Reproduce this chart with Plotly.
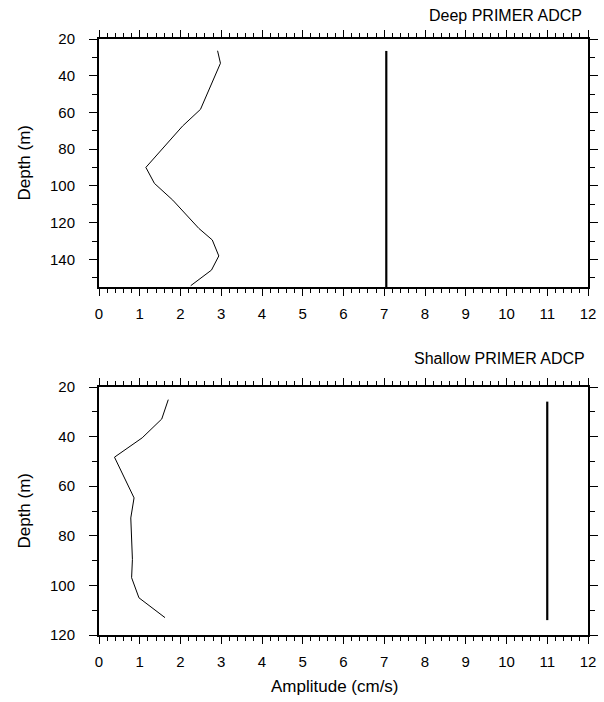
import plotly.graph_objects as go

# Deep PRIMER ADCP profile
deep_amp = [2.91, 2.98, 2.49, 2.05, 1.15, 1.36, 1.81, 2.45, 2.78, 2.94, 2.76, 2.25]
deep_depth = [26.4, 33.2, 58.3, 67.4, 89.9, 98.6, 107.7, 123.1, 129.4, 138.1, 145.8, 154.3]
deep_ref_amp = [7.05, 7.05]
deep_ref_depth = [26.5, 155]

# Shallow PRIMER ADCP profile
shal_amp = [1.70, 1.54, 1.06, 0.38, 0.86, 0.78, 0.82, 0.80, 0.98, 1.62]
shal_depth = [25.1, 32.9, 40.5, 48.3, 64.7, 72.8, 89.5, 96.9, 105.0, 113.0]
shal_ref_amp = [11.0, 11.0]
shal_ref_depth = [25.9, 114.0]

x_ticks = list(range(0, 13))
deep_y_ticks = [20, 40, 60, 80, 100, 120, 140]
shal_y_ticks = [20, 40, 60, 80, 100, 120]

FONT = "Liberation Sans, Arial, Helvetica, sans-serif"

fig = go.Figure()
fig.add_trace(go.Scatter(x=deep_amp, y=deep_depth, mode="lines",
                         line=dict(color="black", width=1), xaxis="x", yaxis="y"))
fig.add_trace(go.Scatter(x=deep_ref_amp, y=deep_ref_depth, mode="lines",
                         line=dict(color="black", width=2.2), xaxis="x", yaxis="y"))
fig.add_trace(go.Scatter(x=shal_amp, y=shal_depth, mode="lines",
                         line=dict(color="black", width=1), xaxis="x2", yaxis="y2"))
fig.add_trace(go.Scatter(x=shal_ref_amp, y=shal_ref_depth, mode="lines",
                         line=dict(color="black", width=2.2), xaxis="x2", yaxis="y2"))

W, H = 604, 702
ml, mr, mt, mb = 99, 6, 39, 67
pw = W - ml - mr
ph = H - mt - mb
panel = 248
top_dom = [1 - panel / ph, 1]
bot_dom = [0, panel / ph]

def xax(anchor):
    return dict(
        domain=[0, 1], anchor=anchor, range=[0, 12], tickvals=x_ticks,
        ticktext=[str(v) for v in x_ticks],
        showgrid=False, zeroline=False, showline=True, linecolor="black", linewidth=2,
        mirror="allticks", ticks="outside", ticklen=7, tickwidth=1.2, tickcolor="black",
        minor=dict(dtick=0.2, ticks="outside", ticklen=4, tickwidth=1, tickcolor="black"),
        tickfont=dict(family=FONT, size=15, color="black"),
        ticklabelstandoff=5,
    )

def yax(anchor, dom, rng, ticks):
    return dict(
        domain=dom, anchor=anchor, range=rng, tickvals=ticks,
        ticktext=[str(v) for v in ticks],
        showgrid=False, zeroline=False, showline=True, linecolor="black", linewidth=2,
        mirror="allticks", ticks="outside", ticklen=8, tickwidth=1.2, tickcolor="black",
        minor=dict(dtick=10, ticks="outside", ticklen=5, tickwidth=1, tickcolor="black"),
        tickfont=dict(family=FONT, size=15, color="black"),
        ticklabelstandoff=11,
    )

fig.update_layout(
    width=W, height=H,
    margin=dict(l=ml, r=mr, t=mt, b=mb, pad=0),
    paper_bgcolor="white", plot_bgcolor="white",
    showlegend=False,
    xaxis=xax("y"),
    yaxis=yax("x", top_dom, [155, 20], deep_y_ticks),
    xaxis2=xax("y2"),
    yaxis2=yax("x2", bot_dom, [120, 20], shal_y_ticks),
)

annotations = [
    dict(text="Deep PRIMER ADCP", xref="paper", yref="paper", x=(594 - ml) / pw, y=1 + 24 / ph,
         xanchor="right", yanchor="middle", showarrow=False,
         font=dict(family=FONT, size=16, color="black")),
    dict(text="Shallow PRIMER ADCP", xref="paper", yref="paper", x=(597 - ml) / pw,
         y=bot_dom[1] + 29 / ph,
         xanchor="right", yanchor="middle", showarrow=False,
         font=dict(family=FONT, size=16, color="black")),
    dict(text="Depth (m)", xref="paper", yref="paper", x=-(ml - 22) / pw,
         y=(top_dom[0] + top_dom[1]) / 2, textangle=-90, xanchor="center", yanchor="middle",
         showarrow=False, font=dict(family=FONT, size=17, color="black")),
    dict(text="Depth (m)", xref="paper", yref="paper", x=-(ml - 22) / pw,
         y=(bot_dom[0] + bot_dom[1]) / 2, textangle=-90, xanchor="center", yanchor="middle",
         showarrow=False, font=dict(family=FONT, size=17, color="black")),
    dict(text="Amplitude (cm/s)", xref="paper", yref="paper", x=(340 - ml) / pw,
         y=-(686 - 635) / ph, xanchor="center", yanchor="middle", showarrow=False,
         font=dict(family=FONT, size=17, color="black")),
]
fig.update_layout(annotations=annotations)

fig.write_html("out.html")
